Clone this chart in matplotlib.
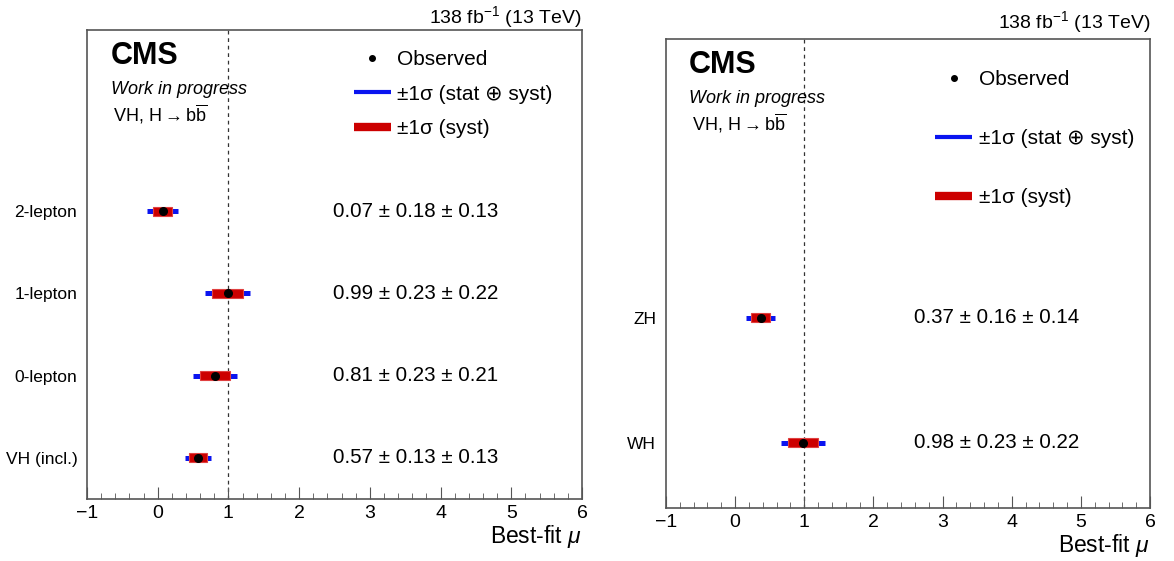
"""
Best-fit signal strength per channel, VH(bb) -- CMS style two-panel summary
"""

import numpy as np
import matplotlib.pyplot as plt
from matplotlib.lines import Line2D
from matplotlib.ticker import MultipleLocator

plt.rcParams['font.family'] = ['Liberation Sans', 'DejaVu Sans']
plt.rcParams['mathtext.fontset'] = 'custom'
plt.rcParams['mathtext.rm'] = 'Liberation Sans'
plt.rcParams['mathtext.it'] = 'Liberation Sans:italic'

################# data #####################
# left panel: lepton channels  (mu +- stat +- syst)
chan_labels = ['VH (incl.)', '0-lepton', '1-lepton', '2-lepton']
chan_mu = [0.57, 0.81, 0.99, 0.07]
chan_stat = [0.13, 0.23, 0.23, 0.18]
chan_syst = [0.13, 0.21, 0.22, 0.13]

# right panel: production modes
prod_labels = ['WH', 'ZH']
prod_mu = [0.98, 0.37]
prod_stat = [0.23, 0.16]
prod_syst = [0.22, 0.14]

lumi_text = r'138 fb$^{-1}$ (13 TeV)'
blue = '#0a14f0'
red = '#cc0000'
edge = '#555555'


def draw_panel(ax, labels, mu, stat, syst, ylim, bar_h, text_x, leg_anchor, leg_space):
    y = np.arange(len(labels))
    mu = np.array(mu)
    stat = np.array(stat)
    syst = np.array(syst)
    tot = np.sqrt(stat**2 + syst**2)  # stat (+) syst
    ax.hlines(y, mu - tot, mu + tot, color=blue, lw=3.6, zorder=2)
    ax.barh(y, 2*syst, left=mu - syst, height=bar_h, color=red,
            edgecolor='#e04040', linewidth=0.8, zorder=3)
    ax.plot(mu, y, 'o', color='black', ms=5.5, zorder=4)
    ax.axvline(1, color='#333333', ls=(0, (3, 3)), lw=0.9, zorder=1)
    for yi, m, st, sy in zip(y, mu, stat, syst):
        ax.text(text_x, yi, '%.2f ± %.2f ± %.2f' % (m, st, sy),
                fontsize=14.8, va='center', ha='left')

    ax.set_xlim(-1, 6)
    ax.set_ylim(*ylim)
    ax.set_yticks(y)
    ax.set_yticklabels(labels, fontsize=12.5)
    ax.tick_params(axis='y', length=0, pad=7)
    ax.xaxis.set_major_locator(MultipleLocator(1))
    ax.xaxis.set_minor_locator(MultipleLocator(0.2))
    ax.tick_params(axis='x', which='major', direction='in', length=9,
                   labelsize=14, pad=4, color=edge)
    ax.tick_params(axis='x', which='minor', direction='in', length=4.5, color=edge)
    for sp in ax.spines.values():
        sp.set_color(edge)
        sp.set_linewidth(1.2)
    ax.set_xlabel(r'Best-fit $\mu$', fontsize=16.5, loc='right', labelpad=1)

    ax.text(0.048, 0.945, 'CMS', transform=ax.transAxes, fontsize=22,
            fontweight='bold', va='center')
    ax.text(0.048, 0.873, 'Work in progress', transform=ax.transAxes,
            fontsize=13, style='italic', va='center')
    ax.text(0.053, 0.821, r'VH, H$\rightarrow$b$\overline{\mathrm{b}}$',
            transform=ax.transAxes, fontsize=13, va='center')

    handles = [Line2D([], [], marker='o', ls='none', color='black', ms=4),
               Line2D([], [], color=blue, lw=3, solid_capstyle='butt'),
               Line2D([], [], color=red, lw=6, solid_capstyle='butt')]
    names = ['Observed', '±1σ (stat ⊕ syst)', '±1σ (syst)']
    ax.legend(handles, names, loc='upper left', bbox_to_anchor=leg_anchor,
              frameon=False, fontsize=15, handlelength=1.8, handletextpad=0.3,
              labelspacing=leg_space, borderaxespad=0)


fig = plt.figure(figsize=(11.74, 5.61), dpi=100)
ax1 = fig.add_axes([0.0741, 0.1105, 0.4216, 0.836])
ax2 = fig.add_axes([0.5673, 0.0945, 0.4123, 0.836])

draw_panel(ax1, chan_labels, chan_mu, chan_stat, chan_syst, (-0.5, 5.2), 0.11,
           2.48, (0.522, 0.975), 0.75)
draw_panel(ax2, prod_labels, prod_mu, prod_stat, prod_syst, (-0.52, 3.23), 0.072,
           2.587, (0.538, 0.952), 1.93)

fig.text(0.4957, 0.959, lumi_text, ha='right', va='baseline', fontsize=14)
fig.text(0.9796, 0.950, lumi_text, ha='right', va='baseline', fontsize=14)

fig.savefig('out.png', dpi=100)
